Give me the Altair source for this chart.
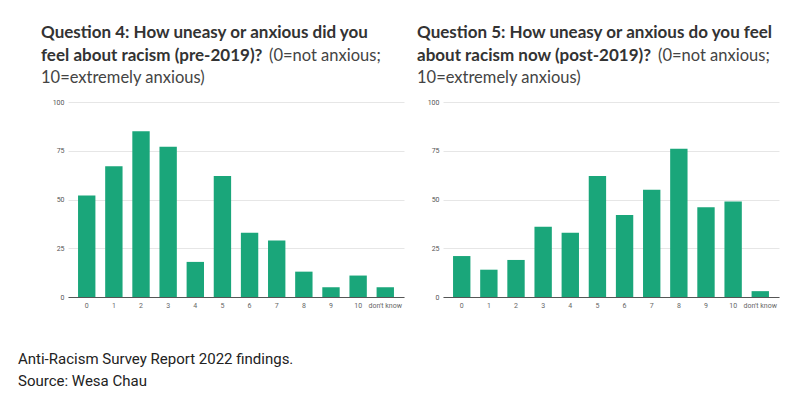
import altair as alt
import pandas as pd

categories = ["0", "1", "2", "3", "4", "5", "6", "7", "8", "9", "10", "don't know"]
pre_2019 = [52, 67, 85, 77, 18, 62, 33, 29, 13, 5, 11, 5]
post_2019 = [21, 14, 19, 36, 33, 62, 42, 55, 76, 46, 49, 3]
y_ticks = [0, 25, 50, 75, 100]

q4_title = ["Question 4: How uneasy or anxious did you",
            "feel about racism (pre-2019)?",
            "(0=not anxious;",
            "10=extremely anxious)"]
q5_title = ["Question 5: How uneasy or anxious do you feel",
            "about racism now (post-2019)?",
            "(0=not anxious;",
            "10=extremely anxious)"]
caption = ["Anti-Racism Survey Report 2022 findings.", "Source: Wesa Chau"]

BAR = "#1aa67a"
W, H = 336, 195
TFONT = "Lato"


def txt(s, x, y, bold=False, size=16.5, font=TFONT, color="#333333"):
    return alt.Chart(pd.DataFrame({"t": [s]})).mark_text(
        align="left", baseline="alphabetic", font=font, fontSize=size,
        fontWeight="bold" if bold else "normal", color=color
    ).encode(x=alt.value(x), y=alt.value(y), text="t:N")


def panel(values, title, tx, reg_x, extra=None):
    df = pd.DataFrame({"answer": categories, "count": values})
    bars = alt.Chart(df).mark_bar(color=BAR).encode(
        x=alt.X("answer:N", sort=categories, title=None,
                scale=alt.Scale(paddingInner=0.36, paddingOuter=0.37),
                axis=alt.Axis(labelAngle=0, labelFontSize=7, labelColor="#666666",
                              ticks=False, domainColor="#555555", labelPadding=4,
                              labelOverlap=False, labelFont="Roboto")),
        y=alt.Y("count:Q", title=None, scale=alt.Scale(domain=[0, 100]),
                axis=alt.Axis(values=y_ticks, ticks=False, domain=False,
                              gridColor="#e6e6e6", labelFontSize=7,
                              labelColor="#555555", labelPadding=4,
                              labelFont="Roboto"))
    )
    layers = [bars,
              txt(title[0], tx, -64, bold=True, size=17),
              txt(title[1], tx, -41, bold=True, size=17),
              txt(title[2], reg_x, -41, color="#444444"),
              txt(title[3], tx, -19, color="#444444")]
    if extra:
        layers += extra
    return alt.layer(*layers).properties(width=W, height=H)


cap_layers = [txt(caption[0], -50, 262, size=15, font="Roboto", color="#222222"),
              txt(caption[1], -50, 284, size=15, font="Roboto", color="#222222")]

left = panel(pre_2019, q4_title, -27, 201, cap_layers)
right = panel(post_2019, q5_title, -26, 215)

chart = alt.hconcat(left, right, spacing=13).properties(
    padding={"left": 10, "top": 16, "right": 5, "bottom": 5}
).configure_view(stroke=None)

chart.save("out.html", embed_options={"renderer": "svg", "actions": False})
